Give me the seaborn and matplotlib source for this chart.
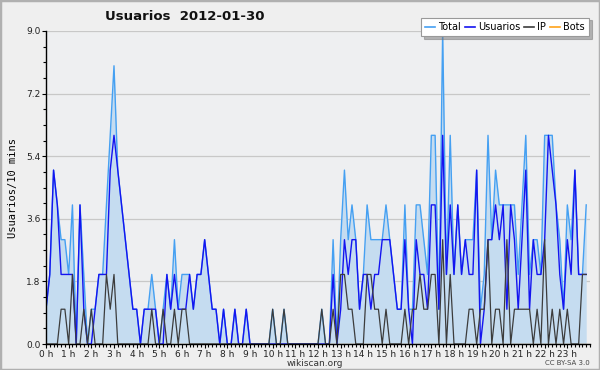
import numpy as np
import pandas as pd
import matplotlib
matplotlib.use("Agg")
import matplotlib.pyplot as plt
from matplotlib.lines import Line2D
from matplotlib.patches import Rectangle
from matplotlib.ticker import MultipleLocator, FixedLocator
import seaborn as sns

# ---- data (10-minute slots over one day) ----
usuarios = [1, 2, 5, 4, 2, 2, 2, 2, 0, 4, 1, 0, 0, 1, 2, 2, 2, 5, 6, 5, 4, 3, 2, 1,
            1, 0, 1, 1, 1, 1, 0, 0, 2, 1, 2, 1, 1, 1, 2, 1, 2, 2, 3, 2, 1, 1, 0, 1,
            0, 0, 1, 0, 0, 1, 0, 0, 0, 0, 0, 0, 0, 0, 0, 0, 0, 0, 0, 0, 0, 0, 0, 0,
            0, 0, 0, 0, 2, 0, 1, 3, 2, 3, 3, 1, 2, 2, 1, 2, 2, 3, 3, 3, 2, 1, 1, 3,
            1, 0, 3, 2, 2, 1, 4, 4, 1, 6, 2, 4, 2, 4, 2, 3, 2, 2, 5, 0, 1, 3, 3, 4,
            3, 4, 1, 4, 3, 1, 3, 5, 1, 3, 2, 2, 3, 6, 5, 4, 2, 1, 3, 2, 5, 2, 2, 2]
ip = [0, 0, 0, 0, 1, 1, 0, 2, 0, 0, 1, 0, 1, 0, 0, 0, 2, 1, 2, 0, 0, 0, 0, 0,
      0, 0, 0, 0, 1, 0, 0, 1, 0, 0, 1, 0, 1, 1, 0, 0, 0, 0, 0, 0, 0, 0, 0, 0,
      0, 0, 0, 0, 0, 0, 0, 0, 0, 0, 0, 0, 1, 0, 0, 1, 0, 0, 0, 0, 0, 0, 0, 0,
      0, 1, 0, 0, 1, 0, 2, 2, 1, 1, 0, 0, 0, 2, 2, 1, 1, 0, 1, 0, 0, 0, 0, 1,
      0, 1, 1, 2, 1, 1, 2, 2, 0, 3, 0, 2, 0, 0, 0, 0, 1, 1, 0, 1, 1, 3, 0, 1,
      1, 0, 3, 0, 1, 1, 1, 1, 1, 0, 1, 0, 3, 0, 1, 0, 1, 0, 1, 0, 0, 0, 2, 2]
total = [1, 2, 5, 4, 3, 3, 2, 4, 0, 4, 2, 0, 1, 1, 2, 2, 4, 6, 8, 5, 4, 3, 2, 1,
         1, 0, 1, 1, 2, 1, 0, 1, 2, 1, 3, 1, 2, 2, 2, 1, 2, 2, 3, 2, 1, 1, 0, 1,
         0, 0, 1, 0, 0, 1, 0, 0, 0, 0, 0, 0, 1, 0, 0, 1, 0, 0, 0, 0, 0, 0, 0, 0,
         0, 1, 0, 0, 3, 0, 3, 5, 3, 4, 3, 1, 2, 4, 3, 3, 3, 3, 4, 3, 2, 1, 1, 4,
         1, 1, 4, 4, 3, 2, 6, 6, 1, 9, 2, 6, 2, 4, 2, 3, 3, 3, 5, 1, 2, 6, 3, 5,
         4, 4, 4, 4, 4, 2, 4, 6, 2, 3, 3, 2, 6, 6, 6, 4, 3, 1, 4, 3, 5, 2, 2, 4]
bots = [0] * 144
hour_labels = [f"{h} h" for h in range(24)]
y_ticks = [0.0, 1.8, 3.6, 5.4, 7.2, 9.0]

df = pd.DataFrame({
    "hour": np.arange(len(total)) / 6.0,
    "Total": total,
    "Usuarios": usuarios,
    "IP": ip,
    "Bots": bots,
})

c_total = "#45a0f2"
c_fill = "#c5dcf0"
c_user = "#1414f0"
c_ip = "#3c3c3c"
c_bots = "#ffa31a"

fig = plt.figure(figsize=(6.0, 3.7), dpi=100, facecolor="#efefef")
ax = fig.add_axes([46 / 600, 1 - 344 / 370, 544 / 600, 313 / 370])
ax.set_facecolor("#eeeff1")

ax.fill_between(df["hour"], 0, df["Total"], color=c_fill, linewidth=0, zorder=1)
sns.lineplot(data=df, x="hour", y="Total", color=c_total, linewidth=1.0, ax=ax, zorder=2)
sns.lineplot(data=df, x="hour", y="Usuarios", color=c_user, linewidth=1.0, ax=ax, zorder=3)
sns.lineplot(data=df, x="hour", y="IP", color=c_ip, linewidth=0.9, ax=ax, zorder=4)
sns.lineplot(data=df, x="hour", y="Bots", color=c_bots, linewidth=0.9, ax=ax, zorder=1.5)

ax.set_xlim(0, 24)
ax.set_ylim(0, 9)

# grid & spines
ax.yaxis.set_major_locator(FixedLocator(y_ticks))
ax.yaxis.set_minor_locator(MultipleLocator(0.45))
ax.set_yticklabels([f"{v:.1f}" for v in y_ticks])
ax.grid(axis="y", which="major", color="#c8c8c8", linewidth=0.9, zorder=0)
ax.set_axisbelow(True)
for s in ("top", "right"):
    ax.spines[s].set_visible(False)
for s in ("left", "bottom"):
    ax.spines[s].set_color("black")
    ax.spines[s].set_linewidth(1.0)
    ax.spines[s].set_zorder(6)

ax.set_xticks(range(24))
ax.set_xticklabels(hour_labels)
ax.xaxis.set_minor_locator(MultipleLocator(1 / 6))
ax.tick_params(axis="both", which="major", direction="out", length=3, width=0.8,
               labelsize=6.5, color="black", pad=1.0, labelcolor="#222222")
ax.tick_params(axis="both", which="minor", direction="out", length=2.5, width=0.8, color="black")

ax.set_xlabel("")
ax.set_ylabel("Usuarios/10 mins", family="DejaVu Sans Mono", fontsize=7.5, labelpad=6)

# title
fig.text(105 / 600, 1 - 16 / 370, "Usuarios  2012-01-30", fontsize=9.5, fontweight="bold",
         ha="left", va="center", color="#111111")

# legend
handles = [Line2D([], [], color=c_total, lw=1.2), Line2D([], [], color=c_user, lw=1.2),
           Line2D([], [], color=c_ip, lw=1.2), Line2D([], [], color=c_bots, lw=1.2)]
leg = fig.legend(handles, ["Total", "Usuarios", "IP", "Bots"], ncol=4, loc="center",
                 bbox_to_anchor=(505 / 600, 1 - 27 / 370), fontsize=7, frameon=True,
                 fancybox=False, shadow={"color": "#777777"}, handlelength=1.0,
                 handletextpad=0.3, columnspacing=0.45, borderpad=0.45, borderaxespad=0)
leg.get_frame().set_edgecolor("#999999")
leg.get_frame().set_facecolor("white")
leg.get_frame().set_linewidth(0.8)

fig.text(315 / 600, 1 - 363 / 370, "wikiscan.org", fontsize=6.5, ha="center", va="center",
         color="#333333")
fig.text(590 / 600, 1 - 363 / 370, "CC BY-SA 3.0", fontsize=5, ha="right", va="center",
         color="#444444")

fig.patches.append(Rectangle((0, 0), 1, 1, transform=fig.transFigure, fill=False,
                             edgecolor="#b0b0b0", linewidth=2.5, zorder=10))

fig.savefig("out.png", dpi=100, facecolor=fig.get_facecolor())
